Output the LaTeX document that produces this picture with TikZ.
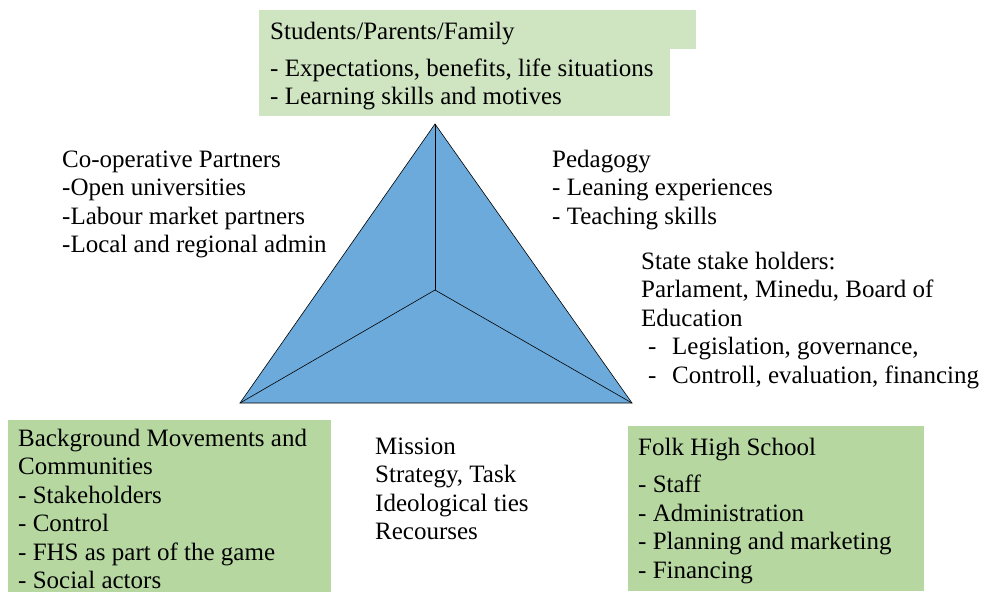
\documentclass[tikz,border=0pt]{standalone}
\usepackage{fontspec}
\setmainfont{Liberation Serif}
\definecolor{lightleaf}{HTML}{CFE4C1}
\definecolor{leaf}{HTML}{B7D7A1}
\definecolor{skyblue}{HTML}{6BAADB}
\newcommand{\itm}{\makebox[24pt][l]{-}}
\newcommand{\lines}[1]{\begin{tabular}[t]{@{}l@{}}#1\end{tabular}}
\begin{document}
\begin{tikzpicture}[x=1pt,y=-1pt,
  every node/.style = {anchor=base west, inner sep=0pt,
    font=\fontsize{25}{28.5}\selectfont},
  facet/.style = {draw=black, line width=0.6pt}
  ]
  \useasboundingbox (0,0) rectangle (982,592);
  % boxes behind the texts
  \fill[lightleaf] (259,10) rectangle (696,49);
  \fill[lightleaf] (259,49) rectangle (670,116);
  \fill[leaf] (8,420) rectangle (331,592);
  \fill[leaf] (628,426) rectangle (924,591);
  % triangle
  \coordinate (apex) at (435,124);
  \coordinate (left) at (240,403);
  \coordinate (right) at (632,403);
  \coordinate (mid) at (435,290);
  \fill[skyblue] (apex) -- (left) -- (right) -- cycle;
  \draw[facet] (apex) -- (left) -- (right) -- cycle;
  \draw[facet] (mid) -- (apex);
  \draw[facet] (mid) -- (left);
  \draw[facet] (mid) -- (right);
  % top
  \node (family) at (270,39) {Students/Parents/Family};
  \node (familylist) at (270,76) {\lines{- Expectations, benefits, life situations\\
    - Learning skills and motives}};
  % sides
  \node (partners) at (62,167) {\lines{Co-operative Partners\\-Open universities\\
    -Labour market partners\\-Local and regional admin}};
  \node (pedagogy) at (552,167) {\lines{Pedagogy\\- Leaning experiences\\- Teaching skills}};
  \node (state) at (641,269) {\lines{State stake holders:\\Parlament, Minedu, Board of\\
    Education\\\hspace*{7pt}\itm Legislation, governance,\\
    \hspace*{7pt}\itm Controll, evaluation, financing}};
  % bottom
  \node (mission) at (375,454) {\lines{Mission\\Strategy, Task\\Ideological ties\\Recourses}};
  \node (background) at (18,446) {\lines{Background Movements and\\Communities\\
    - Stakeholders\\- Control\\- FHS as part of the game\\- Social actors}};
  \node (folk) at (638,455) {\lines{Folk High School\\[9pt]- Staff\\- Administration\\
    - Planning and marketing\\- Financing}};
\end{tikzpicture}
\end{document}
